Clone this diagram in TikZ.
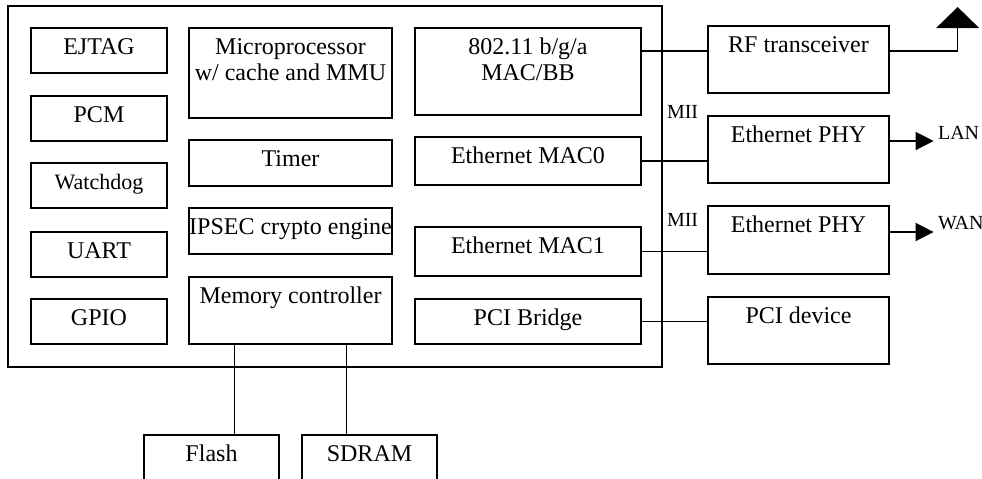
\documentclass[tikz,border=0pt]{standalone}
\usepackage{fontspec}
\setmainfont{Liberation Serif}
\usepackage{tikz}
\usetikzlibrary{positioning,calc,fit,arrows.meta}

\tikzset{
    blk/.style={draw, line width=0.65pt, inner sep=0pt},
    blktxt/.style={anchor=base, inner sep=0pt, align=center, font=\fontsize{12}{13}\selectfont},
    tag/.style={inner sep=0pt, font=\fontsize{10}{10}\selectfont},
    wire/.style={line width=0.75pt},
}

% box from corner to corner, caption hung from its top edge
\newcommand{\modbox}[5][]{%
    \node[blk, fit={#3 #4}] (#2) {};
    \node[blktxt, #1] (#2-t) at ([yshift=-13.5pt]#2.north) {#5};
}

\begin{document}
\begin{tikzpicture}[x=0.5pt, y=-0.5pt]
            \clip (0,0) rectangle (982,478);

            % SoC outline
            \node[blk, fit={(8,6) (662,367)}] (chip) {};

            % left column
            \modbox{ejtag}{(31,28)}{(167,73)}{EJTAG}
            \modbox{pcm}{(31,96)}{(167,141)}{PCM}
            \modbox[font=\fontsize{11}{12}\selectfont]{wdog}{(31,163)}{(167,208)}{Watchdog}
            \modbox{uart}{(31,232)}{(167,277)}{UART}
            \modbox{gpio}{(31,299)}{(167,344)}{GPIO}

            % middle column (two-line captions sit on their last line)
            \modbox[yshift=-13pt]{cpu}{(189,28)}{(392,118)}{Microprocessor\\w/ cache and MMU}
            \modbox{timer}{(189,140)}{(392,186)}{Timer}
            \modbox{ipsec}{(189,208)}{(392,254)}{IPSEC crypto engine}
            \modbox{memc}{(189,277)}{(392,344)}{Memory controller}

            % right column
            \modbox[yshift=-13pt]{wlan}{(415,28)}{(641,115)}{802.11 b/g/a\\MAC/BB}
            \modbox{mac0}{(415,137)}{(641,185)}{Ethernet MAC0}
            \modbox{mac1}{(415,227)}{(641,276)}{Ethernet MAC1}
            \modbox{pcib}{(415,299)}{(641,344)}{PCI Bridge}

            % off-chip parts
            \modbox{rf}{(708,26)}{(889,93)}{RF transceiver}
            \modbox{phy0}{(708,116)}{(889,183)}{Ethernet PHY}
            \modbox{phy1}{(708,206)}{(889,274)}{Ethernet PHY}
            \modbox{pcidev}{(708,297)}{(889,364)}{PCI device}
            \modbox{flash}{(144,435)}{(279,500)}{Flash}
            \modbox{sdram}{(302,435)}{(437,500)}{SDRAM}

            % radio path and antenna
            \coordinate (rfin) at ([yshift=4.25pt]rf.west);
            \coordinate (rfout) at ([yshift=4.25pt]rf.east);
            \coordinate (ant) at ([xshift=34pt, yshift=11.5pt]rfout);
            \draw[wire] (wlan.east |- rfin) -- (rfin);
            \draw[wire] (rfout) -| (ant);
            \fill (ant) ++(-10.75pt,0) -- ++(21.5pt,0) -- ([yshift=10.5pt]ant) -- cycle;

            % MII links
            \draw[wire] (mac0.east) -- (mac0.east -| phy0.west);
            \draw[wire] (mac1.east) -- (mac1.east -| phy1.west);
            \node[tag, anchor=base west] (mii0) at ([shift={(2pt,34.25pt)}]chip.east) {MII};
            \node[tag, anchor=base west] (mii1) at ([shift={(2pt,-19.75pt)}]chip.east) {MII};

            \draw[wire, -{Triangle[length=9pt, width=9pt]}] ([yshift=4.25pt]phy0.east) -- ++(22pt,0) coordinate (lanend);
            \node[tag, anchor=base west] (lan) at ([shift={(2pt,1pt)}]lanend) {LAN};
            \draw[wire, -{Triangle[length=9pt, width=9pt]}] ([yshift=4pt]phy1.east) -- ++(22pt,0) coordinate (wanend);
            \node[tag, anchor=base west] (wan) at ([shift={(2pt,1.5pt)}]wanend) {WAN};

            % PCI
            \draw[wire] (pcib.east) -- (pcib.east -| pcidev.west);

            % memory bus
            \draw[wire] ([xshift=23pt]memc.south west) -- ([xshift=23pt]memc.south west |- flash.north);
            \draw[wire] ([xshift=79pt]memc.south west) -- ([xshift=79pt]memc.south west |- sdram.north);
        \end{tikzpicture}
\end{document}
